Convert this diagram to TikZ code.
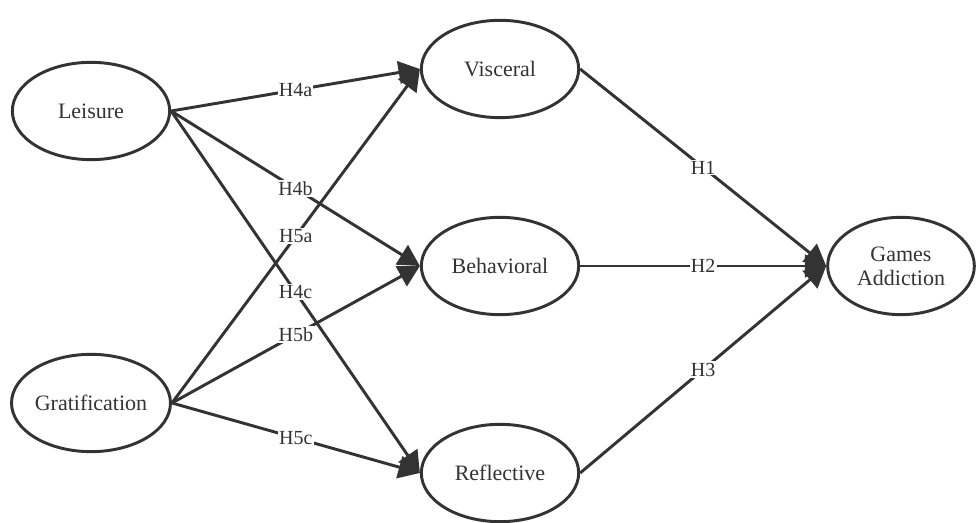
\documentclass[tikz,border=0pt]{standalone}
\usepackage{fontspec}
\setmainfont{Liberation Serif}
\usetikzlibrary{shapes.geometric,arrows.meta}
\definecolor{ink}{HTML}{333333}
\begin{document}
\begin{tikzpicture}[x=0.75pt,y=-0.75pt]

    \tikzset{
      construct/.style={
        draw=ink,
        line width=2.2pt,
        ellipse,
        inner sep=0pt,
        minimum width=118pt,
        minimum height=73pt,
        text=ink,
        font=\fontsize{16.5}{18}\selectfont,
        align=center,
      },
      path/.style={
        draw=ink,
        line width=2.2pt,
        -{Triangle[length=16pt,width=17pt]},
      },
      hyp/.style={
        fill=white,
        text=ink,
        inner sep=1pt,
        font=\fontsize{15}{16}\selectfont,
      },
    }
    \useasboundingbox (0,0) rectangle (976,523);

	\node[construct] (leisure) at (91,111) {Leisure};
	\node[construct] (grat) at (91,403) {Gratification};
	\node[construct] (visc) at (500,69) {Visceral};
	\node[construct] (behav) at (500,266) {Behavioral};
	\node[construct] (refl) at (500,473) {Reflective};
	\node[construct, minimum width=110pt] (addict) at (901,266) {Games\\Addiction};

	\draw[path] (leisure.east) -- node[hyp] {H4a} (visc.west);
	\draw[path] (leisure.east) -- node[hyp] {H4b} (behav.west);
	\draw[path] (leisure.east) -- node[hyp] {H4c} (refl.west);
	\draw[path] (grat.east) -- node[hyp] {H5a} (visc.west);
	\draw[path] (grat.east) -- node[hyp] {H5b} (behav.west);
	\draw[path] (grat.east) -- node[hyp] {H5c} (refl.west);
	
	\draw[path] (visc.east) -- node[hyp] {H1} (addict.west);
	\draw[path] (behav.east) -- node[hyp] {H2} (addict.west);
	\draw[path] (refl.east) -- node[hyp] {H3} (addict.west);

\end{tikzpicture}
\end{document}
